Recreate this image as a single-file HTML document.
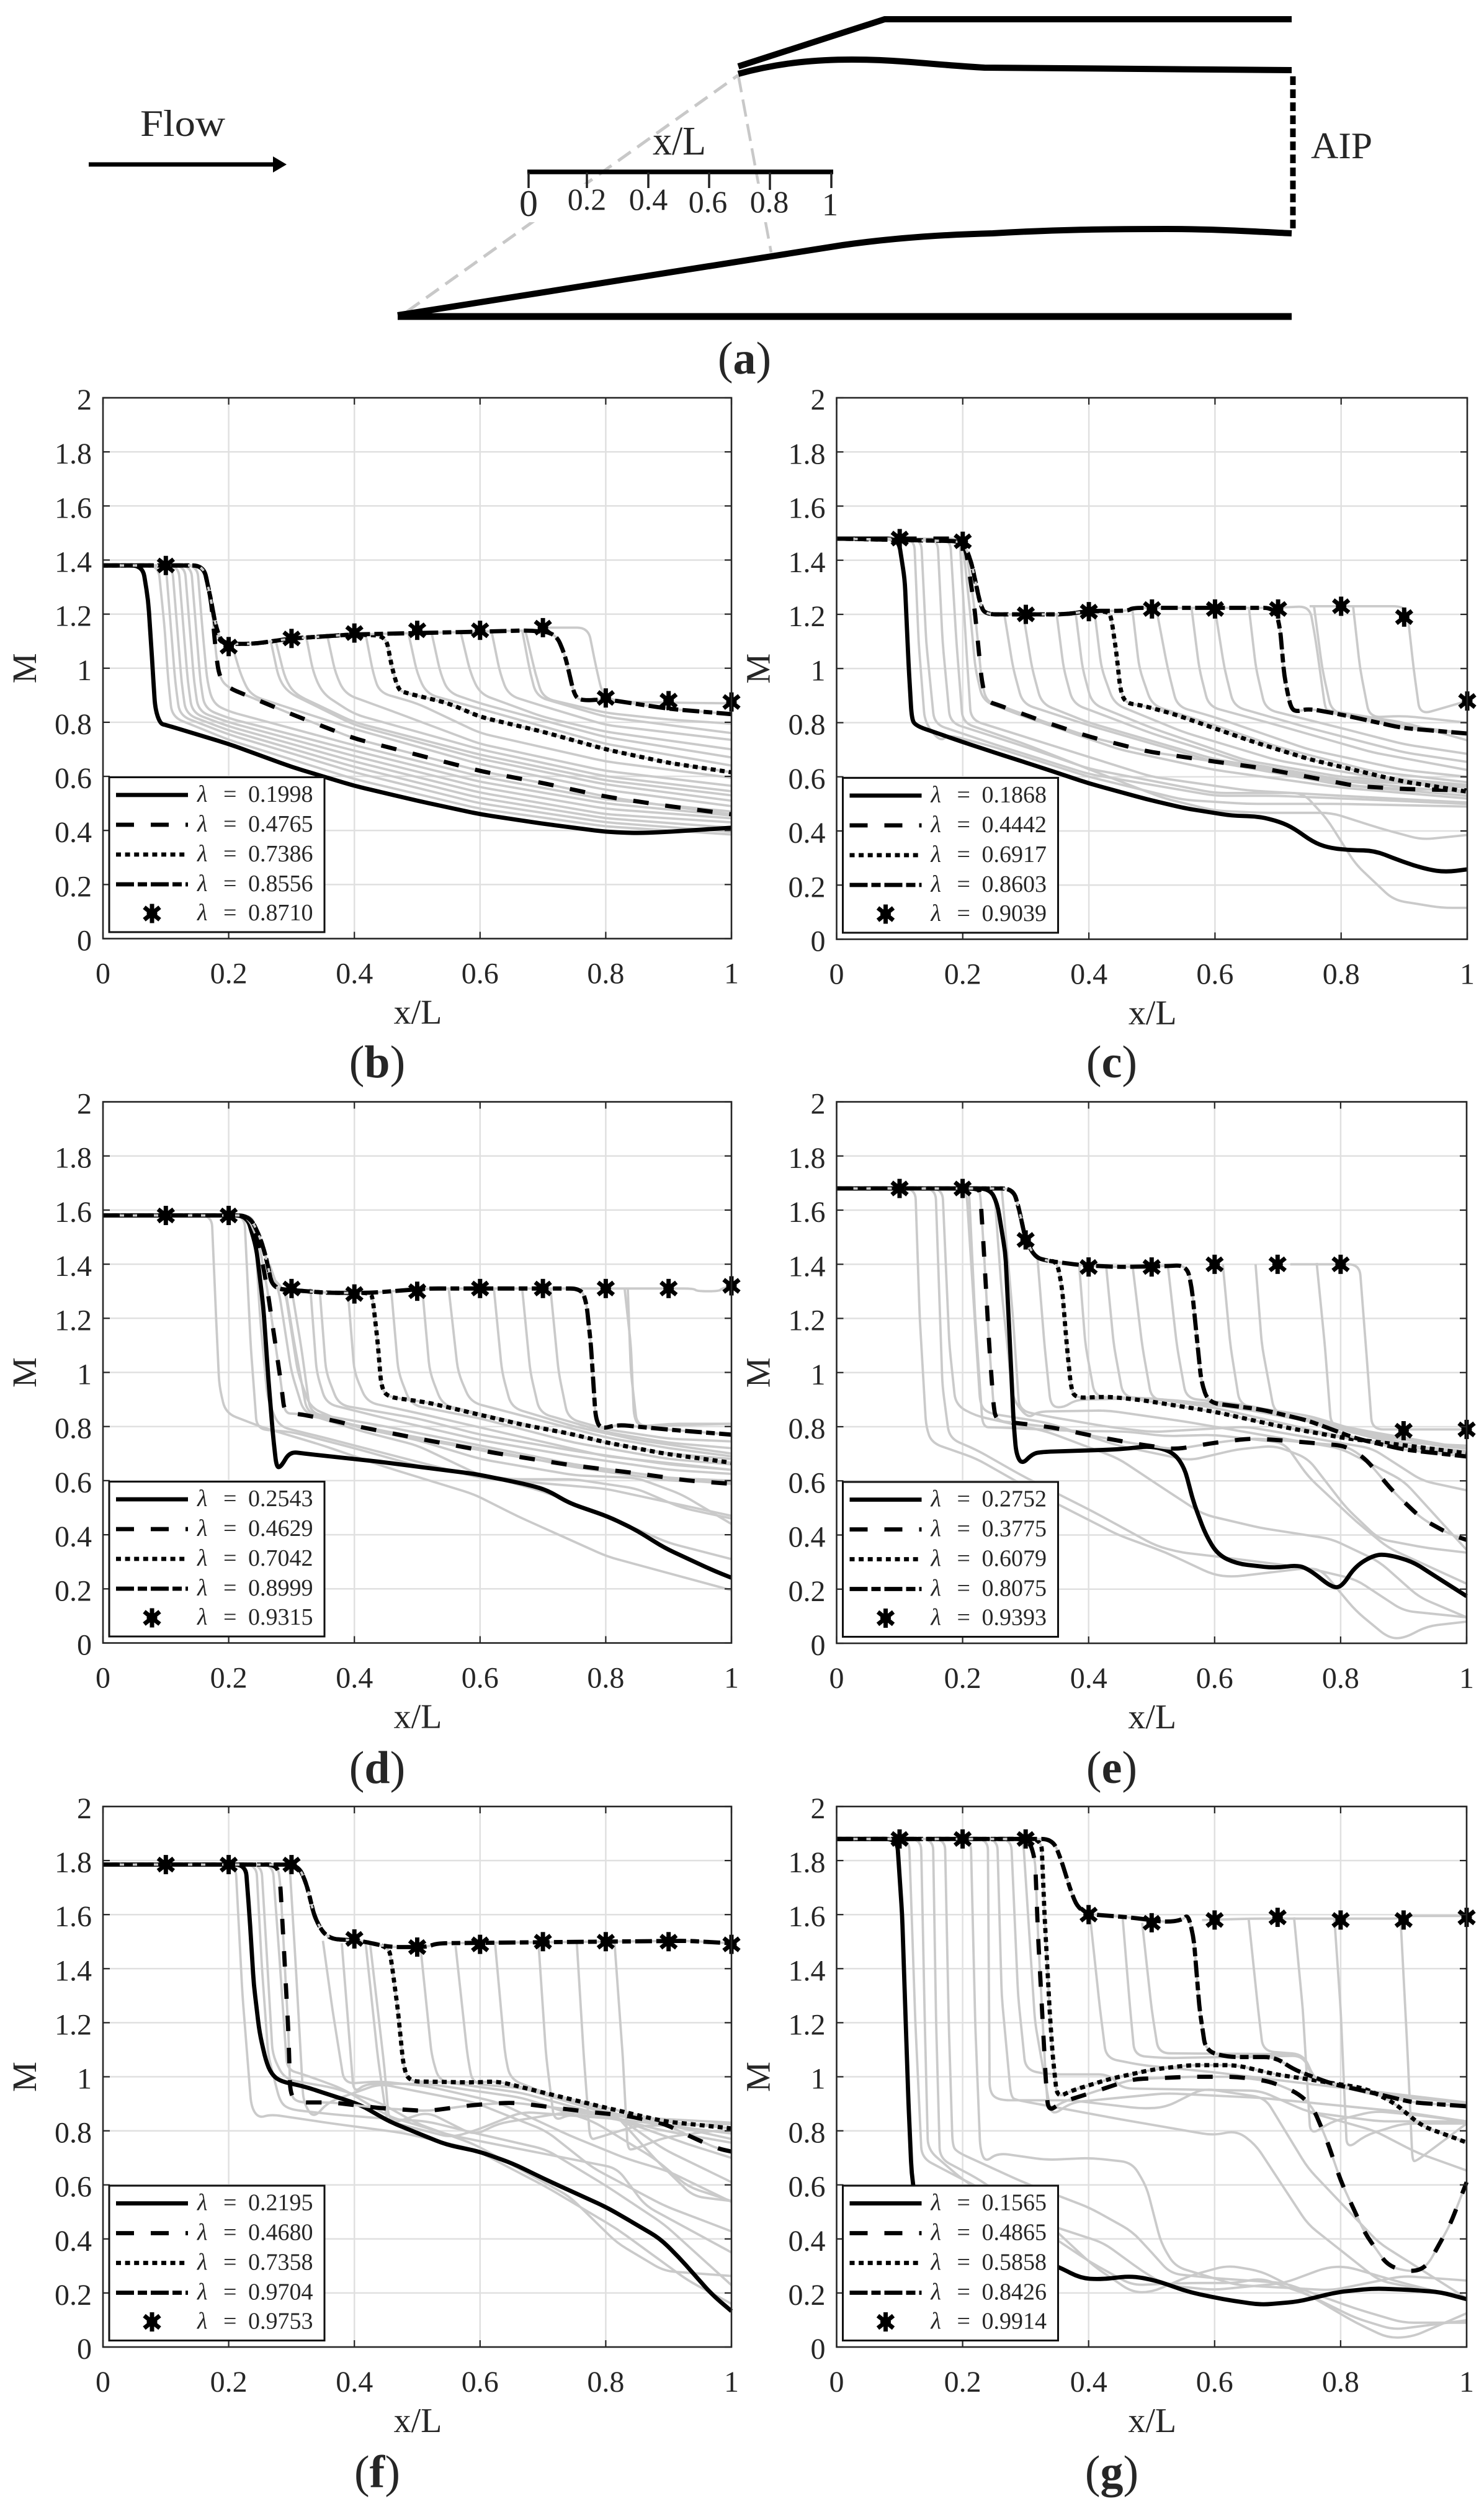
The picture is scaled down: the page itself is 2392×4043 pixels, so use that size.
<!DOCTYPE html>
<html lang="en">
<head>
<meta charset="utf-8">
<title>Mach number distributions along the inlet</title>
<style>
html,body{margin:0;padding:0;background:#fff}
svg{display:block}
text{font-family:"Liberation Serif",serif;fill:#262626}
</style>
</head>
<body>
<svg id="figure" xmlns="http://www.w3.org/2000/svg" width="2392" height="4043" viewBox="0 0 2392 4043">
<rect width="2392" height="4043" fill="#fff"/>
<g>
  <path d="M656 502L1190 121" fill="none" stroke="#c8c8c8" stroke-width="5" stroke-dasharray="25 13"/>
  <path d="M1190 121L1243 407" fill="none" stroke="#c8c8c8" stroke-width="4.5" stroke-dasharray="28 12"/>
  <rect x="830" y="296" width="530" height="62" fill="#fff"/>
  <path d="M1190 107L1426 31L2082 31" fill="none" stroke="#000" stroke-width="10"/>
  <path d="M1190 119C1260 100 1320 96 1373 96C1449 96 1500 104 1587 109L2082 113" fill="none" stroke="#000" stroke-width="10"/>
  <path d="M641 508L1358 395C1450 382 1530 378 1600 376C1700 370 1785 369 1880 369C1953 369 2020 373 2082 376" fill="none" stroke="#000" stroke-width="10"/>
  <path d="M641 510L2082 510" fill="none" stroke="#000" stroke-width="11"/>
  <path d="M2084 123L2084 372" fill="none" stroke="#000" stroke-width="9" stroke-dasharray="14 7"/>
  <path d="M143 265L445 265" fill="none" stroke="#000" stroke-width="7"/>
  <path d="M440 252L462 265L440 278Z" fill="#000"/>
  <text x="226" y="219" font-size="60" textLength="137" lengthAdjust="spacingAndGlyphs">Flow</text>
  <text x="2113" y="255" font-size="60" textLength="99" lengthAdjust="spacingAndGlyphs">AIP</text>
  <text x="1052" y="249" font-size="66" textLength="86" lengthAdjust="spacingAndGlyphs">x/L</text>
  <path d="M850 277L1343 277" fill="none" stroke="#000" stroke-width="7.5"/>
  <path d="M852 278V303M946 278V303M1045 278V303M1143 278V303M1241 278V306M1340 278V303" fill="none" stroke="#222" stroke-width="3.5"/>
  <text x="852" y="348" font-size="60" text-anchor="middle">0</text>
  <text x="946" y="338" font-size="50" text-anchor="middle">0.2</text>
  <text x="1045" y="338" font-size="50" text-anchor="middle">0.4</text>
  <text x="1141" y="342" font-size="50" text-anchor="middle">0.6</text>
  <text x="1240" y="342" font-size="50" text-anchor="middle">0.8</text>
  <text x="1338" y="347" font-size="52" text-anchor="middle">1</text>
</g>
<text x="1200" y="602" font-size="74" text-anchor="middle">(<tspan font-weight="bold">a</tspan>)</text>
</svg>
<script>
// ---- shared axis values ----
const xTickValues = [0, 0.2, 0.4, 0.6, 0.8, 1];
const xTickLabels = ['0', '0.2', '0.4', '0.6', '0.8', '1'];
const yTickValues = [0, 0.2, 0.4, 0.6, 0.8, 1, 1.2, 1.4, 1.6, 1.8, 2];
const yTickLabels = ['0', '0.2', '0.4', '0.6', '0.8', '1', '1.2', '1.4', '1.6', '1.8', '2'];

// ---- panel (b) ----
const bLambda = ['0.1998', '0.4765', '0.7386', '0.8556', '0.8710'];
const bSolid = [0,1.38,.063,1.38,.072,1.25,.079,1,.083,.85,.091,.795,.1,.79,.2,.72,.3,.635,.4,.565,.5,.51,.6,.46,.7,.425,.8,.395,.85,.39,.9,.395,1,.41];
const bDashed = [0,1.38,.16,1.38,.172,1.25,.18,1.05,.185,.97,.197,.93,.3,.83,.4,.74,.5,.68,.6,.62,.7,.575,.8,.525,.9,.49,1,.46];
const bDotted = [0,1.38,.16,1.38,.172,1.25,.182,1.12,.19,1.09,.24,1.09,.3,1.11,.4,1.125,.45,1.12,.46,1,.47,.92,.48,.91,.55,.87,.6,.82,.7,.765,.8,.7,.9,.65,1,.615];
const bDashDot = [0,1.38,.16,1.38,.172,1.25,.18,1.15,.19,1.09,.24,1.09,.3,1.11,.4,1.125,.5,1.13,.6,1.135,.68,1.14,.72,1.13,.735,1.05,.75,.9,.76,.88,.8,.885,.9,.85,1,.83];
const bStarX = [.1,.2,.3,.4,.5,.6,.7,.8,.9,1];
const bStarM = [1.38,1.08,1.11,1.13,1.14,1.14,1.15,.89,.88,.875];
const bGray = [
[0,1.38,.088,1.38,.098,1.15,.104,.95,.11,.82,.2,.735,.4,.59,.6,.48,.8,.415,1,.385],
[0,1.38,.1,1.38,.108,1.15,.115,.95,.122,.825,.2,.755,.4,.615,.6,.5,.8,.43,1,.395],
[0,1.38,.11,1.38,.118,1.15,.125,.95,.132,.83,.2,.77,.4,.635,.6,.52,.8,.445,1,.41],
[0,1.38,.12,1.38,.128,1.15,.135,.95,.142,.835,.2,.785,.4,.655,.6,.54,.8,.46,1,.43],
[0,1.38,.13,1.38,.138,1.15,.145,.95,.152,.84,.2,.8,.4,.675,.6,.56,.8,.48,1,.445],
[0,1.38,.14,1.38,.148,1.15,.155,.95,.162,.85,.2,.815,.4,.695,.6,.58,.8,.5,1,.455],
[0,1.38,.15,1.38,.158,1.15,.166,.95,.175,.87,.2,.84,.4,.715,.6,.6,.8,.515,1,.47],
[.206,1.08,.22,.97,.235,.9,.3,.85,.4,.775,.6,.645,.8,.55,1,.49],
[.267,1.1,.28,.96,.295,.91,.4,.79,.6,.665,.8,.57,1,.51],
[.275,1.1,.29,.96,.305,.905,.4,.8,.6,.68,.8,.585,1,.53],
[.323,1.12,.335,.98,.35,.905,.4,.83,.6,.7,.8,.6,1,.545],
[.357,1.12,.37,.98,.385,.905,.45,.85,.6,.72,.8,.62,1,.565],
[.418,1.125,.43,.98,.44,.91,.5,.87,.6,.76,.8,.655,1,.595],
[.486,1.13,.5,.98,.515,.905,.6,.85,.8,.72,1,.64],
[.523,1.13,.537,.98,.55,.91,.6,.87,.8,.745,1,.67],
[.569,1.135,.585,.98,.6,.905,.7,.82,.8,.765,1,.7],
[.618,1.14,.632,.98,.645,.9,.7,.86,.8,.79,1,.735],
[.667,1.14,.68,.98,.69,.895,.8,.82,.9,.79,1,.76],
[.672,1.14,.688,.98,.7,.89,.8,.835,.9,.81,1,.795],
[.7,1.15,.772,1.15,.785,1,.795,.9,.82,.875,1,.87]
];

// ---- panel (c) ----
const cLambda = ['0.1868', '0.4442', '0.6917', '0.8603', '0.9039'];
const cSolid = [0,1.48,.098,1.48,.108,1.33,.114,1.02,.119,.82,.124,.79,.198,.73,.25,.69,.326,.633,.401,.575,.492,.517,.552,.484,.627,.456,.669,.454,.703,.434,.725,.41,.755,.36,.778,.339,.808,.33,.853,.327,.898,.286,.936,.258,.966,.248,1,.258];
const cDashed = [0,1.48,.195,1.48,.205,1.44,.218,1.235,.224,1.1,.23,.955,.237,.88,.258,.864,.326,.806,.401,.748,.492,.694,.597,.657,.672,.633,.748,.6,.823,.566,.898,.555,1,.55];
const cDotted = [0,1.48,.2,1.47,.213,1.4,.228,1.235,.236,1.2,.364,1.2,.401,1.213,.43,1.21,.435,1.194,.443,1.07,.45,.92,.458,.872,.484,.864,.537,.83,.597,.781,.657,.732,.748,.666,.823,.624,.898,.583,1,.545];
const cDashDot = [0,1.48,.2,1.47,.213,1.4,.228,1.235,.236,1.2,.364,1.2,.401,1.213,.462,1.213,.469,1.224,.695,1.224,.703,1.153,.71,.97,.72,.855,.729,.84,.748,.852,.8,.83,.898,.78,1,.76];
const cStarX = [.1,.2,.3,.4,.5,.6,.7,.8,.9,1];
const cStarM = [1.48,1.47,1.2,1.21,1.22,1.22,1.22,1.23,1.19,.88];
const cGray = [
[0,1.48,.123,1.48,.13,1.1,.14,.8,.164,.73,.177,.755,.25,.71,.4,.6,.55,.515,.65,.5,.8,.5,1,.49],
[0,1.48,.134,1.48,.142,1.1,.155,.795,.25,.72,.4,.61,.6,.53,.7,.53,.8,.52,1,.5],
[0,1.48,.16,1.48,.168,1.1,.18,.8,.3,.71,.4,.63,.6,.54,.74,.54,.778,.443,.823,.277,.883,.145,.959,.116,1,.116],
[0,1.48,.18,1.48,.19,1.1,.2,.8,.3,.72,.42,.61,.52,.52,.6,.475,.672,.467,.785,.467,.861,.41,.928,.368,1,.385],
[0,1.48,.195,1.48,.205,1.1,.213,.81,.35,.71,.5,.6,.65,.55,.8,.53,1,.505],
[.2,1.47,.212,1.2,.22,1,.232,.88,.3,.82,.45,.7,.6,.625,.8,.56,1,.52],
[.266,1.2,.28,1,.295,.87,.4,.79,.6,.655,.8,.57,1,.53],
[.296,1.2,.31,1,.325,.87,.4,.8,.6,.665,.8,.585,1,.54],
[.349,1.2,.36,1,.375,.87,.5,.76,.65,.65,.8,.59,1,.56],
[.379,1.205,.39,1,.405,.87,.5,.78,.65,.66,.8,.6,1,.565],
[.409,1.21,.42,1,.44,.87,.55,.765,.7,.66,.85,.6,1,.57],
[.469,1.22,.48,1,.5,.865,.6,.79,.7,.71,.85,.62,1,.58],
[.507,1.22,.525,1,.54,.86,.6,.82,.75,.7,.9,.625,1,.6],
[.563,1.22,.575,1,.59,.86,.7,.79,.85,.69,1,.625],
[.6,1.22,.615,1,.63,.86,.75,.78,.9,.69,1,.655],
[.654,1.22,.665,1,.68,.85,.8,.78,.9,.72,1,.685],
[.7,1.225,.75,1.23,.76,1.1,.775,.85,.78,.845,.9,.8,1,.735],
[.757,1.23,.77,1,.785,.84,.9,.79,1,.76],
[.819,1.23,.83,1,.845,.82,.9,.825,1,.8],
[.75,1.23,.9,1.23,.906,1.19,.915,1,.925,.83,1,.88]
];

// ---- panel (d) ----
const dLambda = ['0.2543', '0.4629', '0.7042', '0.8999', '0.9315'];
const dSolid = [0,1.58,.229,1.58,.244,1.46,.255,1.245,.263,.98,.27,.78,.276,.65,.283,.65,.297,.707,.32,.7,.44,.67,.591,.625,.667,.59,.705,.567,.742,.517,.803,.468,.848,.418,.893,.352,.969,.27,1,.241];
const dDashed = [0,1.58,.23,1.58,.248,1.48,.262,1.3,.274,1.11,.284,.947,.289,.848,.308,.848,.365,.823,.41,.798,.516,.749,.629,.7,.742,.658,.856,.625,.931,.6,1,.588];
const dDotted = [0,1.58,.233,1.58,.25,1.5,.26,1.42,.27,1.31,.357,1.294,.425,1.294,.429,1.277,.437,1.112,.443,.947,.452,.91,.516,.889,.591,.848,.667,.807,.742,.774,.803,.74,.893,.7,1,.666];
const dDashDot = [0,1.58,.233,1.58,.25,1.5,.26,1.42,.27,1.31,.357,1.294,.425,1.294,.516,1.31,.761,1.31,.769,1.26,.776,1.112,.784,.83,.792,.79,.818,.807,.893,.79,1,.77];
const dStarX = [.1,.2,.3,.4,.5,.6,.7,.8,.9,1];
const dStarM = [1.58,1.58,1.31,1.29,1.3,1.31,1.31,1.31,1.31,1.32];
const dGray = [
[0,1.58,.173,1.58,.18,1.2,.185,.95,.195,.85,.25,.8,.35,.73,.45,.65,.59,.55,.66,.468,.803,.319,1,.195],
[0,1.58,.225,1.58,.235,1.1,.245,.79,.3,.78,.4,.72,.5,.655,.6,.625,.7,.56,.8,.47,.9,.37,1,.31],
[0,1.58,.24,1.58,.25,1.2,.262,.9,.28,.8,.35,.76,.45,.7,.6,.61,.7,.59,.8,.57,.92,.51,1,.47],
[.265,1.4,.28,1.3,.3,1,.32,.85,.4,.79,.5,.73,.6,.62,.65,.605,.75,.605,.85,.57,.92,.5,1,.46],
[.27,1.35,.29,1.3,.31,1,.33,.87,.4,.8,.5,.75,.6,.68,.75,.62,.85,.61,.92,.55,1,.44],
[.29,1.31,.305,1.1,.325,.85,.4,.805,.5,.76,.6,.72,.75,.65,.9,.6,1,.595],
[.3,1.31,.315,1.1,.33,.85,.45,.8,.6,.73,.75,.66,.9,.61,1,.6],
[.33,1.31,.34,1,.355,.885,.45,.83,.6,.75,.75,.69,.9,.64,1,.625],
[.345,1.3,.355,1,.375,.88,.5,.83,.6,.77,.75,.71,.9,.66,1,.64],
[.39,1.29,.4,1,.42,.89,.5,.85,.65,.77,.8,.69,1,.64],
[.459,1.295,.47,1,.49,.88,.6,.83,.75,.74,.9,.68,1,.66],
[.508,1.31,.52,1,.54,.88,.65,.82,.8,.74,.9,.7,1,.68],
[.55,1.31,.565,1,.585,.89,.7,.82,.8,.76,.9,.72,1,.69],
[.622,1.31,.635,1,.65,.87,.75,.8,.85,.75,1,.7],
[.667,1.31,.68,1,.695,.85,.8,.78,.9,.74,1,.72],
[.712,1.31,.725,1,.74,.83,.8,.79,.9,.755,1,.745],
[.83,1.31,.84,1.1,.845,.83,.855,.8,.9,.81,1,.81],
[.835,1.31,.84,1,.85,.8,.9,.805,1,.81],
[.76,1.31,.94,1.31,.945,1.3,.98,1.3,.985,1.31,1,1.32]
];

// ---- panel (e) ----
const eLambda = ['0.2752', '0.3775', '0.6079', '0.8075', '0.9393'];
const eSolid = [0,1.68,.243,1.68,.255,1.625,.268,1.44,.275,1.11,.281,.815,.285,.7,.294,.66,.311,.7,.326,.707,.447,.716,.5,.729,.534,.707,.552,.65,.567,.517,.586,.4,.605,.327,.635,.294,.696,.278,.733,.289,.752,.269,.786,.207,.801,.207,.824,.286,.854,.327,.876,.327,.914,.302,.952,.245,1,.174];
const eDashed = [0,1.68,.225,1.68,.228,1.66,.234,1.44,.242,1.11,.249,.88,.253,.823,.281,.815,.341,.798,.409,.765,.477,.736,.537,.716,.598,.74,.658,.757,.711,.749,.809,.729,.839,.683,.884,.559,.929,.46,.974,.402,1,.382];
const eDotted = [0,1.68,.28,1.68,.289,1.61,.3,1.49,.315,1.426,.334,1.413,.35,1.41,.358,1.31,.365,1.11,.372,.947,.378,.906,.432,.911,.485,.898,.598,.856,.711,.798,.809,.757,.899,.732,1,.702];
const eDashDot = [0,1.68,.28,1.68,.289,1.61,.3,1.49,.315,1.426,.334,1.413,.387,1.397,.447,1.39,.522,1.393,.556,1.397,.564,1.31,.571,1.145,.579,.964,.59,.889,.673,.864,.748,.823,.824,.757,.899,.716,1,.69];
const eStarX = [.1,.2,.3,.4,.5,.6,.7,.8,.9,1];
const eStarM = [1.68,1.68,1.49,1.39,1.39,1.4,1.4,1.4,.785,.79];
const eGray = [
[0,1.68,.125,1.68,.132,1.2,.142,.8,.151,.74,.221,.683,.334,.534,.447,.4,.522,.336,.598,.253,.628,.245,.748,.278,.77,.27,.824,.12,.876,.02,.9,.018,.937,.063,1,.08],
[0,1.68,.157,1.68,.168,.95,.179,.757,.221,.716,.296,.617,.409,.484,.507,.36,.545,.336,.598,.322,.748,.278,.824,.236,.9,.12,1,.096],
[0,1.68,.168,1.68,.179,1.1,.189,.88,.221,.84,.334,.782,.447,.683,.522,.567,.582,.476,.673,.426,.786,.385,.861,.302,.925,.17,1,.096],
[0,1.68,.21,1.68,.22,1.2,.232,.798,.251,.798,.37,.785,.462,.782,.522,.765,.598,.77,.711,.74,.748,.617,.824,.451,.876,.352,1,.22],
[0,1.68,.206,1.675,.217,1.28,.228,.88,.24,.85,.334,.815,.447,.73,.56,.675,.635,.716,.696,.73,.748,.683,.809,.5,.861,.385,.937,.352,1,.335],
[0,1.68,.25,1.68,.262,1.3,.28,.9,.304,.83,.319,.856,.43,.86,.55,.82,.7,.76,.8,.72,.9,.6,1,.345],
[.262,1.68,.28,1.2,.29,.86,.33,.84,.43,.8,.5,.78,.65,.8,.75,.76,.85,.72,.93,.6,1,.565],
[.319,1.42,.33,1.1,.34,.875,.36,.87,.38,.9,.5,.905,.6,.87,.75,.79,.85,.74,1,.7],
[.385,1.395,.395,1.1,.41,.91,.5,.905,.6,.88,.75,.83,.85,.77,1,.72],
[.428,1.39,.44,1.1,.455,.91,.55,.895,.7,.85,.85,.78,1,.72],
[.47,1.39,.485,1.1,.5,.9,.6,.885,.75,.82,.9,.73,1,.7],
[.526,1.39,.54,1.1,.555,.905,.65,.88,.8,.8,.9,.73,1,.71],
[.613,1.4,.625,1.1,.64,.88,.75,.84,.85,.77,1,.72],
[.665,1.4,.675,1.1,.695,.85,.8,.8,.9,.74,1,.73],
[.762,1.405,.775,1.1,.785,.8,.85,.78,.95,.73,1,.72],
[.72,1.4,.83,1.4,.84,1.1,.85,.79,.9,.79,1,.79]
];

// ---- panel (f) ----
const fLambda = ['0.2195', '0.4680', '0.7358', '0.9704', '0.9753'];
const fSolid = [0,1.785,.227,1.785,.233,1.6,.24,1.34,.249,1.165,.259,1.06,.268,1.01,.282,.983,.319,.965,.365,.93,.41,.896,.455,.835,.5,.792,.546,.749,.599,.723,.652,.679,.705,.619,.803,.515,.848,.454,.886,.402,.916,.333,.969,.194,1,.133];
const fDashed = [0,1.785,.278,1.785,.282,1.716,.289,1.425,.295,1.165,.298,.939,.308,.905,.365,.905,.44,.884,.516,.873,.591,.896,.652,.905,.773,.87,.833,.856,.893,.827,.931,.783,.977,.735,1,.723];
const fDotted = [0,1.785,.31,1.785,.323,1.72,.338,1.58,.357,1.511,.41,1.503,.455,1.48,.459,1.425,.469,1.251,.478,1.043,.486,.983,.591,.979,.629,.983,.705,.939,.803,.884,.893,.835,1,.809];
const fDashDot = [0,1.785,.31,1.785,.323,1.72,.338,1.58,.357,1.511,.41,1.503,.455,1.48,.516,1.48,.531,1.494,.931,1.503,1,1.494];
const fStarX = [.1,.2,.3,.4,.5,.6,.7,.8,.9,1];
const fStarM = [1.785,1.785,1.785,1.51,1.48,1.49,1.5,1.5,1.5,1.49];
const fGray = [
[0,1.785,.211,1.785,.222,1.3,.236,.887,.248,.847,.267,.861,.365,.827,.478,.792,.591,.731,.705,.593,.818,.437,.931,.246,1,.16],
[0,1.785,.244,1.785,.253,1.4,.263,1.078,.282,.905,.297,.879,.365,.861,.455,.844,.516,.835,.591,.792,.705,.731,.803,.593,.893,.454,1,.229],
[0,1.785,.252,1.785,.262,1.4,.27,1.078,.289,.991,.365,.96,.44,.905,.5,.827,.591,.75,.742,.558,.818,.385,.893,.281,1,.263],
[0,1.785,.27,1.785,.282,1.4,.293,1.026,.319,1.009,.38,.957,.455,.853,.554,.783,.667,.731,.818,.662,.863,.523,1,.35],
[0,1.785,.297,1.785,.307,1.4,.319,.905,.335,.844,.357,.905,.44,.974,.516,.939,.591,.905,.705,.8,.78,.662,.893,.523,1,.428],
[.35,1.503,.365,1.25,.384,.974,.44,.983,.516,.965,.629,.905,.742,.783,.833,.697,.9,.65,1,.537],
[.38,1.494,.39,1.2,.399,.94,.418,.974,.516,.974,.667,.922,.78,.835,.878,.697,.931,.593,1,.54],
[.418,1.494,.437,1.078,.452,.835,.459,.827,.516,.87,.591,.783,.629,.827,.742,.87,.818,.853,.893,.731,1,.61],
[.425,1.494,.448,1.03,.455,.835,.554,.775,.591,.8,.667,.87,.818,.844,.931,.75,1,.7],
[.505,1.485,.523,1.078,.535,.983,.667,.94,.818,.844,1,.79],
[.561,1.485,.58,1.078,.588,.974,.667,.958,.818,.853,1,.83],
[.624,1.49,.64,1.078,.648,.991,.705,.939,.818,.862,1,.77],
[.693,1.494,.705,1.078,.718,.835,.742,.861,.818,.844,.893,.8,1,.756],
[.754,1.494,.765,1.078,.775,.766,.788,.775,.848,.818,1,.825],
[.814,1.494,.827,1.078,.835,.731,.844,.731,.893,.775,.97,.8,1,.8],
[.818,.853,.878,.697,.939,.558,1,.54]
];

// ---- panel (g) ----
const gLambda = ['0.1565', '0.4865', '0.5858', '0.8426', '0.9914'];
const gSolid = [0,1.88,.096,1.88,.104,1.6,.109,1.25,.114,.905,.119,.645,.124,.558,.15,.46,.2,.42,.3,.34,.351,.298,.387,.255,.417,.25,.469,.263,.507,.246,.56,.203,.613,.177,.673,.156,.733,.168,.794,.203,.854,.217,.914,.211,.959,.203,1,.177];
const gDashed = [0,1.88,.305,1.88,.315,1.806,.32,1.511,.326,1.251,.332,.991,.336,.87,.356,.905,.402,.939,.469,.991,.56,1,.635,1,.688,.983,.733,.939,.756,.887,.778,.766,.801,.61,.839,.419,.876,.298,.914,.277,.937,.298,.974,.454,1,.61];
const gDotted = [0,1.88,.325,1.88,.33,1.6,.338,1.251,.343,1.078,.35,.922,.372,.948,.432,.991,.5,1.026,.56,1.043,.635,1.043,.696,1.009,.748,.991,.839,.957,.884,.905,.929,.818,1,.757];
const gDashDot = [0,1.88,.343,1.88,.356,1.806,.372,1.685,.383,1.624,.402,1.601,.469,1.589,.522,1.572,.549,1.58,.558,1.601,.567,1.511,.576,1.251,.586,1.095,.62,1.073,.696,1.073,.726,1.026,.786,.974,.854,.939,.914,.905,1,.891];
const gStarX = [.1,.2,.3,.4,.5,.6,.7,.8,.9,1];
const gStarM = [1.88,1.88,1.88,1.6,1.57,1.58,1.59,1.58,1.58,1.59];
const gGray = [
[0,1.88,.115,1.88,.125,1.2,.135,.7,.2,.62,.27,.54,.341,.445,.409,.298,.469,.203,.5,.203,.56,.263,.62,.302,.673,.281,.748,.194,.824,.09,.876,.033,.914,.038,1,.125],
[0,1.88,.134,1.88,.14,1.2,.145,.73,.2,.62,.341,.41,.402,.315,.469,.229,.56,.237,.635,.237,.673,.255,.748,.194,.824,.107,.884,.064,1,.099],
[0,1.88,.153,1.88,.158,1.2,.164,.697,.221,.627,.334,.454,.424,.385,.485,.281,.522,.229,.598,.211,.711,.237,.778,.295,.809,.298,.899,.237,1,.177],
[0,1.88,.172,1.88,.178,1.2,.184,.749,.19,.723,.296,.61,.402,.515,.469,.428,.5,.35,.53,.272,.598,.255,.711,.237,.824,.142,.899,.09,1,.09],
[0,1.88,.213,1.88,.22,1.2,.228,.731,.236,.683,.255,.718,.334,.692,.402,.7,.469,.683,.492,.593,.515,.385,.537,.298,.635,.229,.786,.21,.899,.263,1,.246],
[0,1.88,.24,1.88,.243,.94,.258,.913,.372,.913,.485,.882,.522,.887,.582,.957,.68,.922,.748,.662,.861,.385,1,.18],
[0,1.88,.255,1.88,.262,1.3,.277,.922,.288,.913,.447,.844,.598,.783,.635,.801,.665,.749,.748,.454,.861,.246,1,.177],
[0,1.88,.277,1.88,.288,1.3,.3,1.026,.334,1.009,.433,1.009,.452,.957,.673,.948,.748,.87,.861,.835,1,.835],
[0,1.88,.296,1.88,.315,1.2,.341,.853,.372,.905,.522,.939,.673,.922,.899,.87,1,.835],
[.402,1.6,.418,1.251,.428,1.069,.484,1.043,.598,1.017,.748,.974,1,.905],
[.454,1.59,.466,1.25,.473,1.078,.522,1.069,.741,1.078,.756,.991,.854,.939,1,.9],
[.485,1.57,.5,1.25,.511,1.087,.741,1.083,.76,.985,.86,.93,1,.905],
[.654,1.585,.669,1.25,.677,1.095,.741,1.083,.76,.983,.86,.94,1,.9],
[.726,1.59,.74,1.25,.752,.783,.786,.835,.854,.873,.914,.86,1,.835],
[.79,1.59,.8,1.25,.81,.731,.839,.783,.899,.827,1,.827],
[.895,1.59,.906,1.1,.914,.688,.92,.688,1,.827],
[.748,.87,.854,.8,.92,.72,1,.653],
[.58,1.58,.66,1.585,.895,1.585,.9,1.595,1,1.595]
];

// ---- rendering ----
const NS = 'http://www.w3.org/2000/svg';
const root = document.getElementById('figure');

function el(tag, attrs, parent) {
  const node = document.createElementNS(NS, tag);
  for (const key in attrs) node.setAttribute(key, attrs[key]);
  parent.appendChild(node);
  return node;
}

// rounded polyline through (x,M) pairs; the radius only softens the corners
function curvePath(flat, sx, sy) {
  const pts = [];
  for (let i = 0; i < flat.length; i += 2) pts.push([sx(flat[i]), sy(flat[i + 1])]);
  let d = 'M' + pts[0][0].toFixed(1) + ' ' + pts[0][1].toFixed(1);
  for (let i = 1; i < pts.length - 1; i++) {
    const p = pts[i - 1], q = pts[i], r = pts[i + 1];
    const a = Math.hypot(q[0] - p[0], q[1] - p[1]);
    const b = Math.hypot(r[0] - q[0], r[1] - q[1]);
    const ra = Math.min(18, a / 2) / (a || 1);
    const rb = Math.min(18, b / 2) / (b || 1);
    const ax = q[0] + (p[0] - q[0]) * ra, ay = q[1] + (p[1] - q[1]) * ra;
    const bx = q[0] + (r[0] - q[0]) * rb, by = q[1] + (r[1] - q[1]) * rb;
    d += 'L' + ax.toFixed(1) + ' ' + ay.toFixed(1) + 'Q' + q[0].toFixed(1) + ' ' + q[1].toFixed(1) + ' ' + bx.toFixed(1) + ' ' + by.toFixed(1);
  }
  const last = pts[pts.length - 1];
  return d + 'L' + last[0].toFixed(1) + ' ' + last[1].toFixed(1);
}

function drawStar(parent, cx, cy, name) {
  const star = el('g', {transform: 'translate(' + cx.toFixed(1) + ' ' + cy.toFixed(1) + ')', stroke: '#000', 'stroke-width': 7}, parent);
  
  
  el('line', {x1: 0, y1: -15.5, x2: 0, y2: 15.5}, star);
  el('line', {x1: -12.5, y1: -10, x2: 12.5, y2: 10}, star);
  el('line', {x1: -12.5, y1: 10, x2: 12.5, y2: -10}, star);
  el('circle', {cx: 0, cy: 0, r: 8.5, fill: '#000', stroke: 'none'}, star);
}

const seriesStyles = [
  {key: 'solid', dash: '', legendDash: ''},
  {key: 'dashed', dash: '25 27', legendDash: '29 27'},
  {key: 'dotted', dash: '8 6.6', legendDash: '8 6.6'},
  {key: 'dash-dot', dash: '27 7 14 7', legendDash: '29 6 15 6'}
];

function drawPanel(p) {
  const g = el('g', {}, root);
  
  
  const sx = v => p.x0 + v * (p.x1 - p.x0);
  const sy = v => p.bot - (v / 2) * (p.bot - p.top);

  // grid
  xTickValues.slice(1, -1).forEach(v => {
    const line = el('line', {x1: sx(v), x2: sx(v), y1: p.top, y2: p.bot, stroke: '#e0e0e0', 'stroke-width': 2.5}, g);
    
    
  });
  yTickValues.slice(1, -1).forEach(v => {
    const line = el('line', {x1: p.x0, x2: p.x1, y1: sy(v), y2: sy(v), stroke: '#e0e0e0', 'stroke-width': 2.5}, g);
    
    
  });

  // grey family
  p.gray.forEach(flat => {
    const path = el('path', {d: curvePath(flat, sx, sy), fill: 'none', stroke: '#cacaca', 'stroke-width': 3.8, 'stroke-linejoin': 'round'}, g);
    
    
  });

  // highlighted series
  [p.solid, p.dashed, p.dotted, p.dashDot].forEach((flat, i) => {
    const d = curvePath(flat, sx, sy);
    el('path', {d: d, fill: 'none', stroke: '#cacaca', 'stroke-width': 3.8}, g);
    const path = el('path', {d: d, fill: 'none', stroke: '#000', 'stroke-width': 6.8, 'stroke-dasharray': seriesStyles[i].dash}, g);
    
    
  });

  // star series
  p.starX.forEach((x, i) => {
    drawStar(g, sx(x), sy(p.starM[i]), 'star-marker');
  });

  // axes box and ticks
  const box = el('rect', {x: p.x0, y: p.top, width: p.x1 - p.x0, height: p.bot - p.top, fill: 'none', stroke: '#262626', 'stroke-width': 2.6}, g);
  
  
  xTickValues.forEach((v, i) => {
    const t1 = el('line', {x1: sx(v), x2: sx(v), y1: p.bot, y2: p.bot - 11, stroke: '#262626', 'stroke-width': 2.2}, g);
    
    
    const t2 = el('line', {x1: sx(v), x2: sx(v), y1: p.top, y2: p.top + 11, stroke: '#262626', 'stroke-width': 2.2}, g);
    
    
    const label = el('text', {x: sx(v), y: p.bot + 72, 'font-size': 48, 'text-anchor': 'middle'}, g);
    label.textContent = xTickLabels[i];
    
    
  });
  yTickValues.forEach((v, i) => {
    const t1 = el('line', {x1: p.x0, x2: p.x0 + 11, y1: sy(v), y2: sy(v), stroke: '#262626', 'stroke-width': 2.2}, g);
    
    
    const t2 = el('line', {x1: p.x1, x2: p.x1 - 11, y1: sy(v), y2: sy(v), stroke: '#262626', 'stroke-width': 2.2}, g);
    
    
    const label = el('text', {x: p.x0 - 18, y: sy(v) + 19, 'font-size': 48, 'text-anchor': 'end'}, g);
    label.textContent = yTickLabels[i];
    
    
  });

  // axis titles
  const xTitle = el('text', {x: (p.x0 + p.x1) / 2 + 1, y: p.bot + 137, 'font-size': 56, 'text-anchor': 'middle'}, g);
  xTitle.textContent = 'x/L';
  
  
  const yMid = (p.top + p.bot) / 2;
  const yTitle = el('text', {x: p.x0 - 108, y: yMid, 'font-size': 55, 'text-anchor': 'middle', transform: 'rotate(-90 ' + (p.x0 - 108) + ' ' + yMid + ')'}, g);
  yTitle.textContent = 'M';
  
  

  // legend
  const lg = el('g', {transform: 'translate(' + (p.x0 + 10) + ' ' + (p.bot - 260) + ')'}, g);
  
  
  el('rect', {x: 0, y: 0, width: 347, height: 249.5, fill: '#fff', stroke: '#111', 'stroke-width': 3}, lg);
  const rows = [28.5, 76.5, 124.5, 172.5, 219.5];
  p.lambda.forEach((val, i) => {
    const row = el('g', {}, lg);
    
    
    if (i < 4) {
      el('line', {x1: 11, x2: 127, y1: rows[i], y2: rows[i], stroke: '#000', 'stroke-width': 6.8, 'stroke-dasharray': seriesStyles[i].legendDash}, row);
    } else {
      drawStar(row, 69, rows[i], 'legend-star');
    }
    const lam = el('text', {x: 142, y: rows[i] + 11, 'font-size': 38, 'font-style': 'italic'}, row);
    lam.textContent = '\u03bb';
    const eq = el('text', {x: 184, y: rows[i] + 11, 'font-size': 38}, row);
    eq.textContent = '=';
    const num = el('text', {x: 224, y: rows[i] + 11, 'font-size': 38}, row);
    num.textContent = val;
  });

  // caption
  const cap = el('text', {x: p.capX, y: p.capY, 'font-size': 74, 'text-anchor': 'middle'}, root);
  
  
  cap.appendChild(document.createTextNode('('));
  const letter = el('tspan', {'font-weight': 'bold'}, cap);
  letter.textContent = p.id;
  cap.appendChild(document.createTextNode(')'));
}

drawPanel({id: 'b', x0: 166, x1: 1179, top: 641, bot: 1512.5, capX: 608, capY: 1736, lambda: bLambda, solid: bSolid, dashed: bDashed, dotted: bDotted, dashDot: bDashDot, starX: bStarX, starM: bStarM, gray: bGray});
drawPanel({id: 'c', x0: 1348.5, x1: 2365, top: 641, bot: 1513.5, capX: 1792, capY: 1736, lambda: cLambda, solid: cSolid, dashed: cDashed, dotted: cDotted, dashDot: cDashDot, starX: cStarX, starM: cStarM, gray: cGray});
drawPanel({id: 'd', x0: 166, x1: 1179, top: 1775.5, bot: 2647.5, capX: 608, capY: 2873, lambda: dLambda, solid: dSolid, dashed: dDashed, dotted: dDotted, dashDot: dDashDot, starX: dStarX, starM: dStarM, gray: dGray});
drawPanel({id: 'e', x0: 1348.5, x1: 2364, top: 1775.5, bot: 2648, capX: 1792, capY: 2873, lambda: eLambda, solid: eSolid, dashed: eDashed, dotted: eDotted, dashDot: eDashDot, starX: eStarX, starM: eStarM, gray: eGray});
drawPanel({id: 'f', x0: 166, x1: 1179, top: 2911, bot: 3782, capX: 608, capY: 4008, lambda: fLambda, solid: fSolid, dashed: fDashed, dotted: fDotted, dashDot: fDashDot, starX: fStarX, starM: fStarM, gray: fGray});
drawPanel({id: 'g', x0: 1348.5, x1: 2364, top: 2911, bot: 3782, capX: 1792, capY: 4008, lambda: gLambda, solid: gSolid, dashed: gDashed, dotted: gDotted, dashDot: gDashDot, starX: gStarX, starM: gStarM, gray: gGray});
</script>
</body>
</html>
